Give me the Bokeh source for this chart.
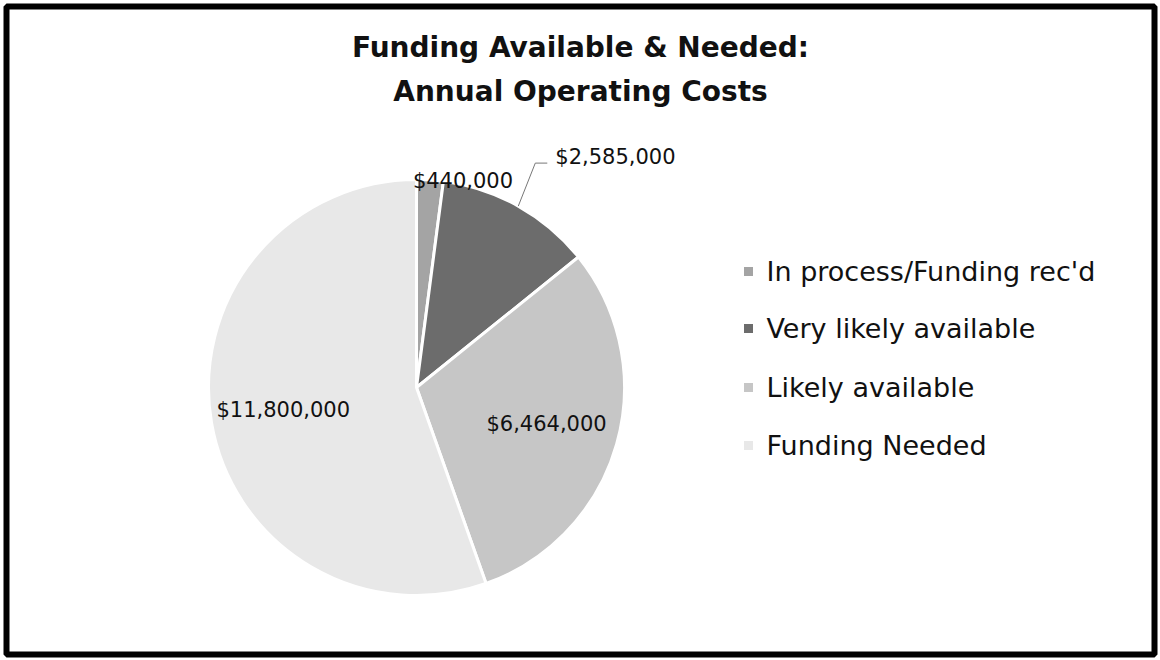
import math
from bokeh.plotting import figure
from bokeh.models import Range1d
from bokeh.core.properties import value
from bokeh.embed import file_html
from bokeh.resources import INLINE

# ---- data ----
categories = ["In process/Funding rec'd", "Very likely available", "Likely available", "Funding Needed"]
amounts = [440000, 2585000, 6464000, 11800000]
labels = ["$440,000", "$2,585,000", "$6,464,000", "$11,800,000"]
colors = ["#a4a4a4", "#6c6c6c", "#c6c6c6", "#e8e8e8"]
title_lines = ["Funding Available & Needed:", "Annual Operating Costs"]

W, H = 1160, 660
B = 6
def Y(sy):
    return H - sy

p = figure(width=W, height=H, output_backend="svg", toolbar_location=None,
           x_range=Range1d(B, W - B), y_range=Range1d(B, H - B),
           min_border=B, background_fill_color="white", border_fill_color="white")
p.axis.visible = False
p.grid.visible = False
p.outline_line_color = "black"
p.outline_line_width = 6

cx, cy, R = 416, Y(387), 208
total = float(sum(amounts))
starts, ends, mids = [], [], []
cum = 0.0
for a in amounts:
    s = math.pi / 2 - 2 * math.pi * cum / total
    cum += a
    e = math.pi / 2 - 2 * math.pi * cum / total
    starts.append(s); ends.append(e); mids.append((s + e) / 2)

p.wedge(x=[cx] * 4, y=[cy] * 4, radius=R, start_angle=starts, end_angle=ends,
        direction="clock", fill_color=colors, line_color="white", line_width=3)

font = value("DejaVu Sans")
# inside labels
for i in (2, 3):
    lx = cx + 0.65 * R * math.cos(mids[i])
    ly = cy + 0.65 * R * math.sin(mids[i])
    p.text(x=[lx], y=[ly], text=[labels[i]], text_font=font, text_font_size="21px",
           text_align="center", text_baseline="middle", text_color="#111111")

# outside label for slice 0
ex = cx + R * math.cos(mids[0]); ey = cy + R * math.sin(mids[0])
p.text(x=[ex + 33], y=[ey - 1], text=[labels[0]], text_font=font, text_font_size="21px",
       text_align="center", text_baseline="middle", text_color="#111111")

# outside label with leader for slice 1
ex = cx + R * math.cos(mids[1]); ey = cy + R * math.sin(mids[1])
bx, by = ex + 17, ey + 43
p.line(x=[ex, bx, bx + 12], y=[ey, by, by], line_color="#777777", line_width=1)
p.text(x=[bx + 20], y=[by + 6], text=[labels[1]], text_font=font, text_font_size="21px",
       text_align="left", text_baseline="middle", text_color="#111111")

# title
for k, t in enumerate(title_lines):
    p.text(x=[580], y=[Y(47 + 44 * k)], text=[t], text_font=font, text_font_size="28px",
           text_font_style="bold", text_align="center", text_baseline="middle",
           text_color="#111111")

# legend
ly0 = [271, 328, 387, 445]
for i, c in enumerate(categories):
    p.scatter(x=[748], y=[Y(ly0[i])], marker="square", size=9, fill_color=colors[i],
              line_color=None)
    p.text(x=[766], y=[Y(ly0[i])], text=[c], text_font=font, text_font_size="27px",
           text_align="left", text_baseline="middle", text_color="#111111")

open("out.html", "w").write(file_html(p, INLINE))
